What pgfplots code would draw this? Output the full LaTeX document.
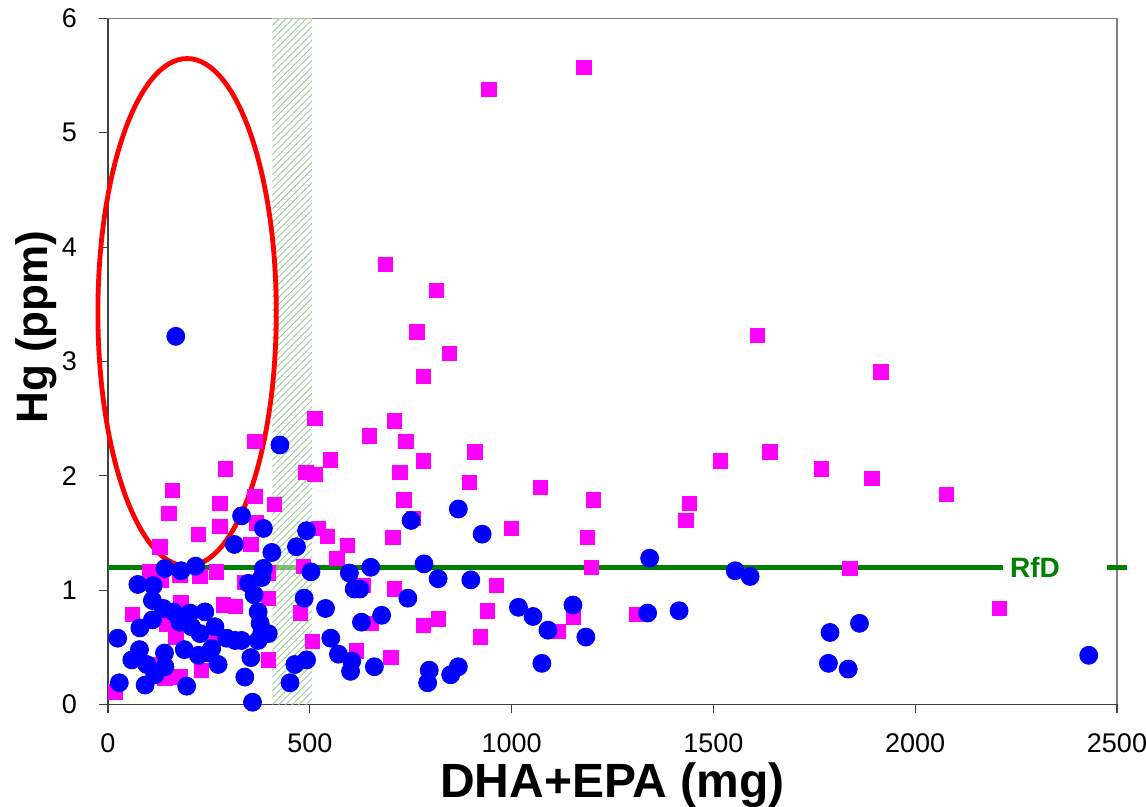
\documentclass[border=0pt]{standalone}
\usepackage{fontspec}
\setmainfont{Liberation Sans}
\usepackage{pgfplots}
\pgfplotsset{compat=1.18}
\usetikzlibrary{patterns.meta}
\definecolor{hgblue}{RGB}{0,0,255}
\definecolor{hgpink}{RGB}{255,0,255}
\definecolor{rfdgreen}{RGB}{0,128,0}
\definecolor{bandgreen}{RGB}{150,205,150}

\begin{document}
\begin{tikzpicture}
\begin{axis}[
  scale only axis, width=504.5pt, height=343pt,
  xmin=0, xmax=2500, ymin=0, ymax=6,
  axis lines*=left,
  axis line style={black!75, line width=0.9pt},
  xtick={0,500,...,2500}, ytick={0,1,...,6},
  tick align=outside, major tick length=4.5pt,
  tick style={black!75, line width=0.6pt},
  ticklabel style={font=\fontsize{13.5}{15}\selectfont},
  xticklabel style={inner sep=1pt, yshift=-9pt},
  yticklabel style={xshift=-7.5pt},
  /pgf/number format/assume math mode=true,
  /pgf/number format/1000 sep={},
  xlabel={DHA+EPA (mg)}, ylabel={Hg (ppm)},
  xlabel style={font=\bfseries\fontsize{24}{27}\selectfont, inner sep=0pt, at={(axis description cs:0.5,-0.1356)}, anchor=base},
  ylabel style={font=\bfseries\fontsize{22}{25}\selectfont, at={(axis description cs:-0.0595,0.55)}, anchor=base},
  clip=false,
]
\coordinate (ll) at (rel axis cs:0,0);
\draw[gray, line width=0.8pt] (rel axis cs:0,1) -- (rel axis cs:1,1) -- (rel axis cs:1,0);

% RfD reference dose
\addplot[rfdgreen, line width=2.6pt] coordinates {(0,1.2) (2218,1.2)};
\addplot[rfdgreen, line width=2.6pt] coordinates {(2475,1.2) (2525,1.2)};
\node[text=rfdgreen, font=\bfseries\fontsize{14}{16}\selectfont] at (axis cs:2297,1.2) {RfD};

% squares
\addplot[only marks, mark=square*, mark size=3.6pt, color=hgpink] coordinates {
(1179,5.57) (944,5.38) (688,3.85) (814,3.62) (765,3.26) (846,3.07) (1609,3.23) (782,2.87)
(1915,2.91) (513,2.50) (710,2.48) (648,2.35) (738,2.30) (364,2.30) (551,2.14) (782,2.13)
(909,2.21) (723,2.03) (513,2.01) (490,2.03) (291,2.06) (895,1.94) (733,1.79) (757,1.63)
(159,1.87) (151,1.67) (277,1.76) (364,1.82) (412,1.75) (277,1.56) (367,1.59) (224,1.49)
(129,1.38) (354,1.40) (522,1.54) (544,1.47) (593,1.39) (706,1.46) (567,1.28) (1071,1.90)
(1203,1.79) (999,1.54) (1188,1.46) (1517,2.13) (1640,2.21) (1767,2.06) (1893,1.98) (2078,1.84)
(1441,1.76) (1432,1.61) (1198,1.20) (1838,1.19) (2208,0.84) (963,1.04) (1310,0.79) (1153,0.76)
(1116,0.64) (633,1.04) (710,1.01) (940,0.82) (818,0.75) (781,0.69) (651,0.71) (922,0.59)
(615,0.47) (701,0.41) (506,0.55) (477,0.80) (484,1.21) (104,1.16) (133,1.09) (178,1.13)
(228,1.12) (269,1.16) (339,1.07) (397,0.93) (397,1.15) (60,0.79) (181,0.89) (286,0.87)
(315,0.86) (145,0.70) (168,0.59) (261,0.58) (125,0.35) (141,0.23) (178,0.24) (232,0.30)
(19,0.11) (397,0.39)
};

% circles
\addplot[only marks, mark=*, mark size=4.5pt, color=hgblue] coordinates {
(168,3.22) (426,2.27) (868,1.71) (751,1.61) (927,1.49) (331,1.65) (385,1.54) (313,1.40)
(406,1.33) (492,1.52) (467,1.38) (503,1.16) (141,1.19) (181,1.17) (217,1.21) (385,1.19)
(381,1.11) (598,1.15) (651,1.20) (783,1.23) (818,1.10) (899,1.09) (610,1.01) (624,1.01)
(743,0.93) (539,0.84) (628,0.72) (678,0.78) (552,0.58) (571,0.44) (604,0.38) (601,0.29)
(660,0.33) (796,0.30) (792,0.19) (849,0.26) (868,0.33) (486,0.93) (463,0.35) (451,0.19)
(492,0.39) (397,0.62) (1342,1.28) (1554,1.17) (1591,1.12) (1017,0.85) (1053,0.77) (1090,0.65)
(1152,0.87) (1184,0.59) (1075,0.36) (1337,0.80) (1415,0.82) (1789,0.63) (1862,0.71) (1785,0.36)
(1834,0.31) (2430,0.43) (74,1.05) (112,1.04) (110,0.91) (137,0.84) (162,0.81) (110,0.74)
(79,0.67) (24,0.58) (178,0.72) (203,0.80) (240,0.81) (207,0.68) (228,0.62) (265,0.68)
(294,0.58) (315,0.56) (331,0.56) (372,0.56) (377,0.71) (372,0.81) (348,1.06) (362,0.96)
(381,0.62) (257,0.49) (189,0.48) (78,0.48) (59,0.39) (96,0.35) (140,0.45) (141,0.33)
(116,0.26) (224,0.43) (250,0.45) (273,0.35) (354,0.41) (339,0.24) (28,0.19) (92,0.17)
(195,0.16) (358,0.02)
};

% recommended intake band
\fill[white, opacity=0.45] (axis cs:407,0) rectangle (axis cs:505,6);
\fill[pattern={Lines[angle=45, distance=2.4pt, line width=0.45pt]}, pattern color=bandgreen]
  (axis cs:407,0) rectangle (axis cs:505,6);

% highlighted group
\draw[red, line width=2.4pt] (axis cs:196,3.43) ellipse [x radius=44.6pt, y radius=126.9pt];
\end{axis}
\pgfresetboundingbox
\path (ll) ++(-54pt,-51.25pt) rectangle ++(573pt,403.5pt);
\end{tikzpicture}
\end{document}
